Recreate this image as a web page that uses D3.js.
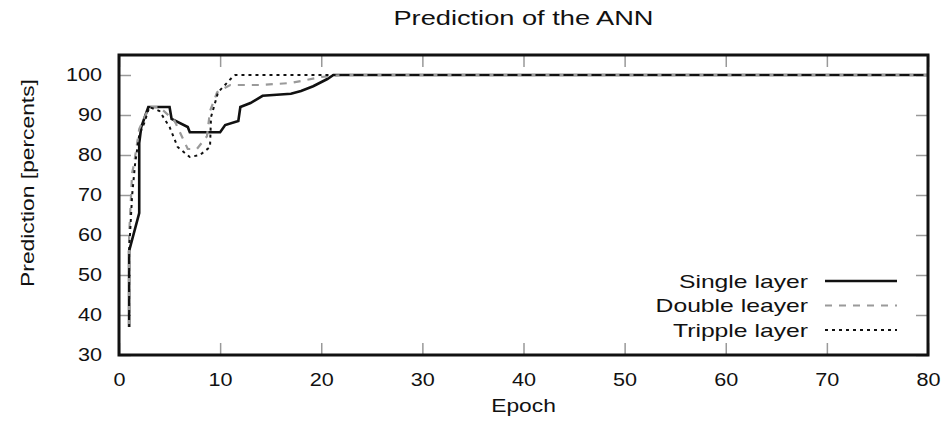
<!DOCTYPE html>
<html>
<head>
<meta charset="utf-8">
<script src="https://cdn.jsdelivr.net/npm/d3@7"></script>
<style>
  body { margin: 0; background: #fff; }
  text { font-family: "Liberation Sans", Arial, sans-serif; fill: #111; }
</style>
</head>
<body>
<script>
var width = 948, height = 433;
var xTicks = [0, 10, 20, 30, 40, 50, 60, 70, 80];
var yTicks = [30, 40, 50, 60, 70, 80, 90, 100];
var seriesNames = ["Single layer", "Double leayer", "Tripple layer"];

// [epoch, prediction %]
var singleLayer = [[1,37],[1,56],[2,65.5],[2,83],[2.2,87],[2.9,92],[5,92],[5.2,89],[6.8,87],[7,85.7],
  [10,85.7],[10.5,87.5],[11.8,88.5],[12,92],[13,93],[14.2,94.8],[17,95.3],[18,96],[19.2,97.2],
  [20.6,99],[21.2,100],[80,100]];
var doubleLayer = [[1,37],[1,60],[1.3,75.5],[1.5,78],[2,86.5],[3,92],[4,92],[5.5,88.5],[6.8,81.5],
  [7.7,81.5],[8.7,84.7],[9,91],[9.7,95.7],[11,97.5],[14,97.5],[17,98],[20,99.5],[22,100],[80,100]];
var trippleLayer = [[1,37],[1,56],[1.3,70],[1.6,78],[2,85],[2.5,88],[3,92],[4,91],[5,87],[5.8,82],
  [7,79.5],[8,80],[9,82],[9.1,89.5],[9.8,95.7],[11.3,99.7],[11.5,100],[80,100]];

var styles = [
  {stroke: "#111", width: 2.6, dash: null},
  {stroke: "#9a9a9a", width: 2.2, dash: "7,7"},
  {stroke: "#111", width: 2, dash: "3,4"}
];

var plotLeft = 119, plotRight = 928, plotTop = 55, plotBottom = 355;

var svg = d3.select("body").append("svg")
    .attr("width", width)
    .attr("height", height);

var x = d3.scaleLinear().domain([0, 80]).range([plotLeft, plotRight]);
var y = d3.scaleLinear().domain([30, 105]).range([plotBottom, plotTop]);

// widen text a bit like the stretched original
function stretch(sel, k) {
  sel.each(function() {
    var len = this.getComputedTextLength();
    d3.select(this).attr("textLength", len * k).attr("lengthAdjust", "spacingAndGlyphs");
  });
}

function styleAxis(g) {
  g.select(".domain").remove();
  g.selectAll(".tick line").attr("stroke", "#999").attr("stroke-width", 1.5);
  g.selectAll(".tick text").attr("font-size", 18).attr("fill", "#111");
}

var gl = svg.append("g").attr("transform", "translate(" + plotLeft + ",0)")
    .call(d3.axisLeft(y).tickValues(yTicks).tickSizeInner(-12).tickSizeOuter(0).tickPadding(17))
    .call(styleAxis);
var gb = svg.append("g").attr("transform", "translate(0," + plotBottom + ")")
    .call(d3.axisBottom(x).tickValues(xTicks).tickSizeInner(-12).tickSizeOuter(0).tickPadding(18))
    .call(styleAxis);
svg.append("g").attr("transform", "translate(" + plotRight + ",0)")
    .call(d3.axisRight(y).tickValues(yTicks).tickSizeInner(-12).tickSizeOuter(0).tickFormat(""))
    .call(styleAxis);
svg.append("g").attr("transform", "translate(0," + plotTop + ")")
    .call(d3.axisTop(x).tickValues(xTicks).tickSizeInner(-12).tickSizeOuter(0).tickFormat(""))
    .call(styleAxis);
stretch(gl.selectAll(".tick text"), 1.2);
stretch(gb.selectAll(".tick text"), 1.2);

var line = d3.line()
    .x(function(d) { return x(d[0]); })
    .y(function(d) { return y(d[1]); });

var allSeries = [singleLayer, doubleLayer, trippleLayer];
svg.append("g").selectAll("path")
    .data(allSeries)
    .enter().append("path")
    .attr("d", line)
    .attr("fill", "none")
    .attr("stroke", function(d, i) { return styles[i].stroke; })
    .attr("stroke-width", function(d, i) { return styles[i].width; })
    .attr("stroke-dasharray", function(d, i) { return styles[i].dash; });

// frame
svg.append("rect")
    .attr("x", plotLeft).attr("y", plotTop)
    .attr("width", plotRight - plotLeft).attr("height", plotBottom - plotTop)
    .attr("fill", "none").attr("stroke", "#111").attr("stroke-width", 3);

// legend
var legend = svg.append("g").selectAll("g")
    .data(seriesNames)
    .enter().append("g")
    .attr("transform", function(d, i) { return "translate(0," + (281 + 24.5 * i) + ")"; });
legend.append("line")
    .attr("x1", 825).attr("x2", 897)
    .attr("stroke", function(d, i) { return styles[i].stroke; })
    .attr("stroke-width", function(d, i) { return styles[i].width; })
    .attr("stroke-dasharray", function(d, i) { return styles[i].dash; });
var legendText = legend.append("text")
    .attr("x", 808).attr("dy", "0.36em")
    .attr("text-anchor", "end")
    .attr("font-size", 19)
    .text(function(d) { return d; });
stretch(legendText, 1.3);

var title = svg.append("text")
    .attr("x", (plotLeft + plotRight) / 2).attr("y", 25)
    .attr("text-anchor", "middle")
    .attr("font-size", 20)
    .text("Prediction of the ANN");
stretch(title, 1.36);

var xLabel = svg.append("text")
    .attr("x", (plotLeft + plotRight) / 2).attr("y", 412)
    .attr("text-anchor", "middle")
    .attr("font-size", 19)
    .text("Epoch");
stretch(xLabel, 1.2);

var yLabel = svg.append("text")
    .attr("transform", "translate(34," + 183 + ") rotate(-90)")
    .attr("text-anchor", "middle")
    .attr("font-size", 19)
    .text("Prediction [percents]");
stretch(yLabel, 1.2);
</script>
</body>
</html>
